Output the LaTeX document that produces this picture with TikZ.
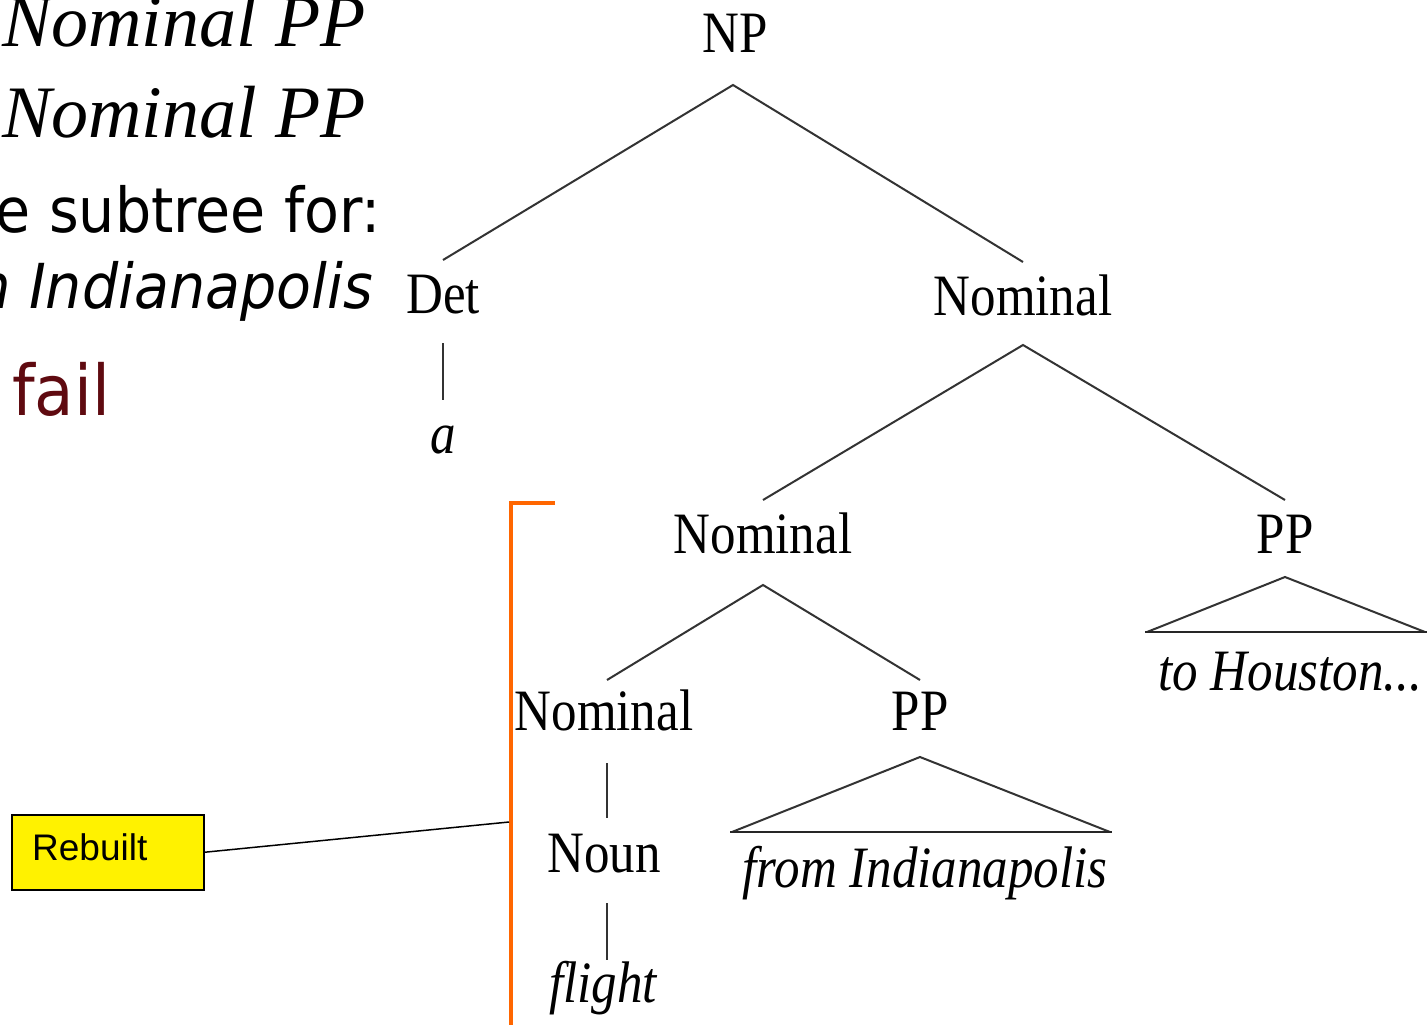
\documentclass[tikz,border=0pt]{standalone}
\usepackage{fontspec}
\usepackage{graphicx}
\usetikzlibrary{calc}
\setmainfont{Liberation Serif}
\newfontfamily\tahomaf[FakeStretch=0.92]{DejaVu Sans}
\newfontfamily\arialf{Liberation Sans}
\definecolor{failred}{RGB}{95,10,16}
\definecolor{bracketorange}{RGB}{255,102,0}
\newcommand\tallword[1]{\scalebox{1}[1.15]{#1}}
\begin{document}
\begin{tikzpicture}[x=1pt,y=-1pt,
  treelabel/.style={font=\fontsize{51}{60}\selectfont, anchor=base, inner sep=0pt},
  leafword/.style={font=\fontsize{51}{60}\selectfont\itshape, anchor=base, inner sep=0pt},
  branch/.style={line width=2pt, black!80},
  baseline/.style={line width=2.8pt, black!85},
  slideserif/.style={font=\fontsize{74}{80}\selectfont\itshape, inner sep=0pt},
  slidesans/.style={font=\tahomaf\fontsize{62}{70}\selectfont, inner sep=0pt},
  calloutbox/.style={draw=black, line width=1.5pt, fill=yellow, minimum width=192pt, minimum height=75pt, inner sep=0pt},
  calloutline/.style={line width=1.5pt, black}
]
\clip (0,0) rectangle (1427,1025);
\fill[white] (0,0) rectangle (1427,1025);

% left slide text (partly cut off, as in the reference)
\node[slideserif, anchor=base west] (l1) at (2,47) {Nominal PP};
\node[slideserif, anchor=base west] (l2) at (2,137) {Nominal PP};
\node[slidesans, anchor=base east] (l3) at (381,232) {e subtree for:};
\node[slidesans, anchor=base east, font=\tahomaf\fontsize{62}{70}\selectfont\itshape] (l4) at (373,308) {m Indianapolis};
\node[slidesans, anchor=base west, text=failred, font=\tahomaf\fontsize{70}{80}\selectfont] (l5) at (12,415) {fail};

% tree nodes
\node[treelabel] (np) at (735,53) {\tallword{NP}};
\node[treelabel] (det) at (443,313) {\tallword{Det}};
\node[leafword] (a) at (443,453) {\tallword{a}};
\node[treelabel] (nom1) at (1023,315) {\tallword{Nominal}};
\node[treelabel] (nom2) at (763,553) {\tallword{Nominal}};
\node[treelabel] (pp1) at (1285,553) {\tallword{PP}};
\node[leafword] (houston) at (1290,690) {\tallword{to Houston...}};
\node[treelabel] (nom3) at (604,730) {\tallword{Nominal}};
\node[treelabel] (pp2) at (920,730) {\tallword{PP}};
\node[leafword] (from) at (925,887) {\tallword{from Indianapolis}};
\node[treelabel] (noun) at (604,872) {\tallword{Noun}};
\node[leafword] (flight) at (603,1002) {\tallword{flight}};

% branches
\draw[branch] ($(det.base)+(0,-53)$) -- ($(np.base)+(-2,32)$) -- ($(nom1.base)+(0,-53)$);
\draw[branch] ($(det.base)+(0,30)$) -- ($(a.base)+(0,-53)$);
\draw[branch] ($(nom2.base)+(0,-53)$) -- ($(nom1.base)+(0,30)$) -- ($(pp1.base)+(0,-53)$);
\draw[branch] ($(nom3.base)+(3,-50)$) -- ($(nom2.base)+(0,32)$) -- ($(pp2.base)+(0,-50)$);
\draw[branch] ($(nom3.base)+(3,33)$) -- ($(noun.base)+(3,-54)$);
\draw[branch] ($(noun.base)+(3,31)$) -- ($(flight.base)+(4,-42)$);

% triangles
\draw[branch] ($(pp1.base)+(-138,79)$) -- ($(pp1.base)+(0,24)$) -- ($(pp1.base)+(140,79)$);
\draw[baseline] ($(pp1.base)+(-140,79)$) -- ($(pp1.base)+(142,79)$);
\draw[branch] ($(pp2.base)+(-188,102)$) -- ($(pp2.base)+(0,27)$) -- ($(pp2.base)+(190,102)$);
\draw[baseline] ($(pp2.base)+(-190,102)$) -- ($(pp2.base)+(192,102)$);

% orange bracket
\coordinate (brtop) at (555,503);
\coordinate (brcorner) at (511,503);
\coordinate (brbottom) at (511,1030);
\draw[bracketorange, line width=3.5pt] (brtop) -- (brcorner) -- (brbottom);

% callout
\node[calloutbox, anchor=north west] (rebuilt) at (11,814) {};
\node[font=\arialf\fontsize{37}{40}\selectfont, anchor=base west, inner sep=0pt] (rebuilttext) at (32,860) {Rebuilt};
\coordinate (calloutend) at (509,822);
\draw[calloutline] (rebuilt.east) -- (calloutend);
\end{tikzpicture}
\end{document}
